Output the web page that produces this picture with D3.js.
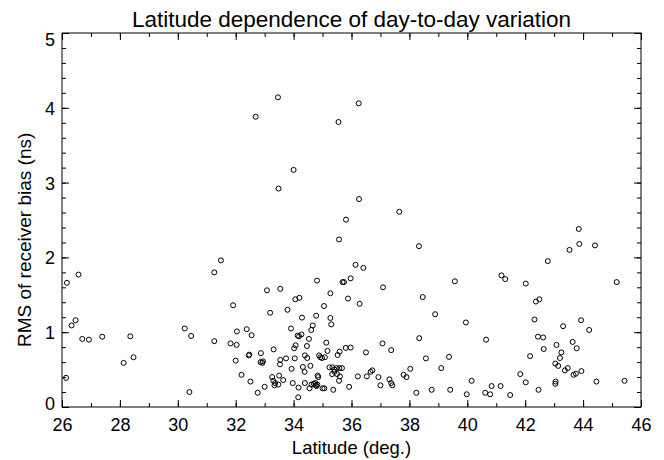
<!DOCTYPE html>
<html><head><meta charset="utf-8">
<script src="https://cdn.jsdelivr.net/npm/d3@7"></script>
<style>body{margin:0;background:#fff;} svg{display:block;} text{font-family:"Liberation Sans",Arial,sans-serif;fill:#000;}</style>
</head><body>
<svg id="c" width="664" height="460"></svg>
<script>
const latitude = [26.17,26.57,26.47,26.33,26.70,26.93,27.39,26.14,28.36,28.47,28.13,30.24,30.46,30.40,31.26,31.49,31.91,31.26,31.82,32.03,32.04,32.38,32.55,32.00,32.45,32.47,32.20,32.51,
35.57,38.33,36.14,36.41,34.81,35.69,35.74,35.97,33.08,33.54,37.09,35.27,34.06,34.20,35.88,36.28,38.46,33.19,33.79,35.05,34.29,34.78,35.27,35.30,38.89,33.91,34.66,34.61,34.14,34.19,34.27,34.53,34.46,34.07,34.02,35.13,35.17,35.59,35.52,35.80,35.97,37.07,37.37,38.34,36.50,38.57,32.87,33.31,32.86,32.92,32.94,33.54,33.53,33.74,34.04,34.39,34.47,33.93,34.32,34.38,34.58,34.88,34.92,34.98,35.08,34.83,34.85,35.24,35.34,35.41,35.48,35.58,35.67,35.33,35.41,35.50,35.60,35.57,33.26,33.30,33.36,33.50,33.47,33.34,33.64,33.00,32.76,33.97,34.17,34.16,34.39,34.55,34.62,34.70,34.75,34.76,34.79,34.82,35.00,35.06,35.37,35.92,36.22,36.53,36.66,36.72,36.93,37.00,37.31,37.37,37.41,37.80,37.90,38.03,38.24,38.77,39.10,
43.85,43.87,44.41,43.53,42.78,45.16,39.57,41.18,41.31,42.02,42.37,42.49,39.95,42.32,43.93,43.31,44.21,40.65,42.44,42.62,43.64,43.08,43.78,42.64,43.25,43.20,42.17,39.37,43.04,43.14,43.37,43.47,43.67,43.75,43.94,41.83,42.02,43.05,43.04,44.46,45.43,40.15,39.41,39.98,40.62,40.79,40.84,41.15,41.48,42.46,
33.46,32.69,36.25,35.55,34.00,33.48,36.26,35.81,37.65];
const rmsBias = [1.66,1.77,1.16,1.09,0.91,0.90,0.94,0.39,0.945,0.665,0.59,1.05,0.95,0.20,1.80,1.96,1.36,0.88,0.85,0.83,1.01,1.04,0.96,0.62,0.69,0.70,0.43,0.34,
2.24,2.15,1.90,1.86,1.69,1.67,1.67,1.72,1.56,1.58,1.60,1.52,1.44,1.46,1.45,1.38,1.47,1.26,1.30,1.35,1.195,1.22,1.19,1.105,1.24,1.05,1.09,1.03,0.955,0.945,0.97,0.91,0.815,0.825,0.785,0.86,0.75,0.74,0.695,0.79,0.795,0.85,0.76,0.92,0.73,0.65,0.72,0.77,0.60,0.59,0.61,0.63,0.57,0.65,0.65,0.69,0.655,0.51,0.535,0.47,0.55,0.69,0.665,0.655,0.665,0.42,0.40,0.53,0.53,0.50,0.52,0.52,0.52,0.44,0.47,0.44,0.41,0.35,0.40,0.35,0.32,0.42,0.30,0.29,0.36,0.27,0.19,0.32,0.26,0.13,0.32,0.25,0.30,0.31,0.32,0.29,0.28,0.30,0.25,0.25,0.23,0.27,0.41,0.41,0.47,0.49,0.40,0.29,0.37,0.32,0.29,0.43,0.40,0.51,0.19,0.23,0.52,
2.38,2.18,2.16,2.10,1.95,1.67,1.68,1.76,1.71,1.65,1.41,1.44,1.13,1.17,1.16,1.08,1.03,0.90,0.94,0.93,0.87,0.83,0.785,0.775,0.73,0.655,0.68,0.67,0.58,0.55,0.49,0.52,0.43,0.445,0.48,0.44,0.33,0.34,0.31,0.34,0.35,0.35,0.23,0.17,0.19,0.17,0.28,0.28,0.16,0.23,
4.14,3.88,4.06,3.81,3.17,2.92,2.78,2.505,2.61];
const xTickLabels = ["26","28","30","32","34","36","38","40","42","44","46"];
const yTickLabels = ["0","1","2","3","4","5"];
const titleText = "Latitude dependence of day-to-day variation";
const xTitle = "Latitude (deg.)";
const yTitle = "RMS of receiver bias (ns)";

const svg = d3.select("#c");
const L=62, R=641, T=33, B=407;
const x = d3.scaleLinear().domain([26,46]).range([L,R]);
const y = d3.scaleLinear().domain([0,5]).range([B,T]);
const xMaj = xTickLabels.map(Number), xMin = d3.range(26,46.5,1);
const yMaj = yTickLabels.map(Number), yMin = d3.range(0,5.01,0.2).map(v=>+v.toFixed(1));
const FONT = "Liberation Sans, Arial, sans-serif";

function ax(gen, vals, size, tr, fmt){
  const g = svg.append("g").attr("transform",tr)
    .call(gen.tickValues(vals).tickSizeInner(-size).tickSizeOuter(0).tickFormat(fmt));
  g.select(".domain").remove();
  g.selectAll("line").attr("stroke","#000").attr("stroke-width",1);
  return g;
}
const none = ()=>"";
ax(d3.axisBottom(x), xMin, 4, `translate(0,${B})`, none);
ax(d3.axisTop(x), xMin, 4, `translate(0,${T})`, none);
ax(d3.axisLeft(y), yMin, 4, `translate(${L},0)`, none);
ax(d3.axisRight(y), yMin, 4, `translate(${R},0)`, none);
const gb = ax(d3.axisBottom(x), xMaj, 7, `translate(0,${B})`, d=>d);
gb.selectAll("text").attr("y",24).attr("dy",0).style("font-size","18px").style("font-family",FONT);
ax(d3.axisTop(x), xMaj, 7, `translate(0,${T})`, none);
const gl = ax(d3.axisLeft(y), yMaj, 7, `translate(${L},0)`, d=>d);
gl.selectAll("text").attr("x",-7)
  .attr("dy",(d,i)=> i===0 ? "0.15em" : (i===yMaj.length-1 ? "0.67em" : "0.36em"))
  .style("font-size","18px").style("font-family",FONT);
ax(d3.axisRight(y), yMaj, 7, `translate(${R},0)`, none);

svg.append("rect").attr("x",L).attr("y",T).attr("width",R-L).attr("height",B-T)
  .attr("fill","none").attr("stroke","#000").attr("stroke-width",1);

svg.append("g").selectAll("circle").data(latitude.map((d,i)=>[d,rmsBias[i]])).join("circle")
  .attr("cx",d=>x(d[0])).attr("cy",d=>y(d[1])).attr("r",2.5)
  .attr("fill","none").attr("stroke","#000").attr("stroke-width",1);

svg.append("text").attr("x",(L+R)/2).attr("y",27).attr("text-anchor","middle").style("font-size","22.5px").text(titleText);
svg.append("text").attr("x",(L+R)/2).attr("y",454).attr("text-anchor","middle").style("font-size","18.5px").text(xTitle);
svg.append("text").attr("transform",`translate(31,347) rotate(-90)`).attr("text-anchor","start").style("font-size","19px").text(yTitle);
</script>
</body></html>
